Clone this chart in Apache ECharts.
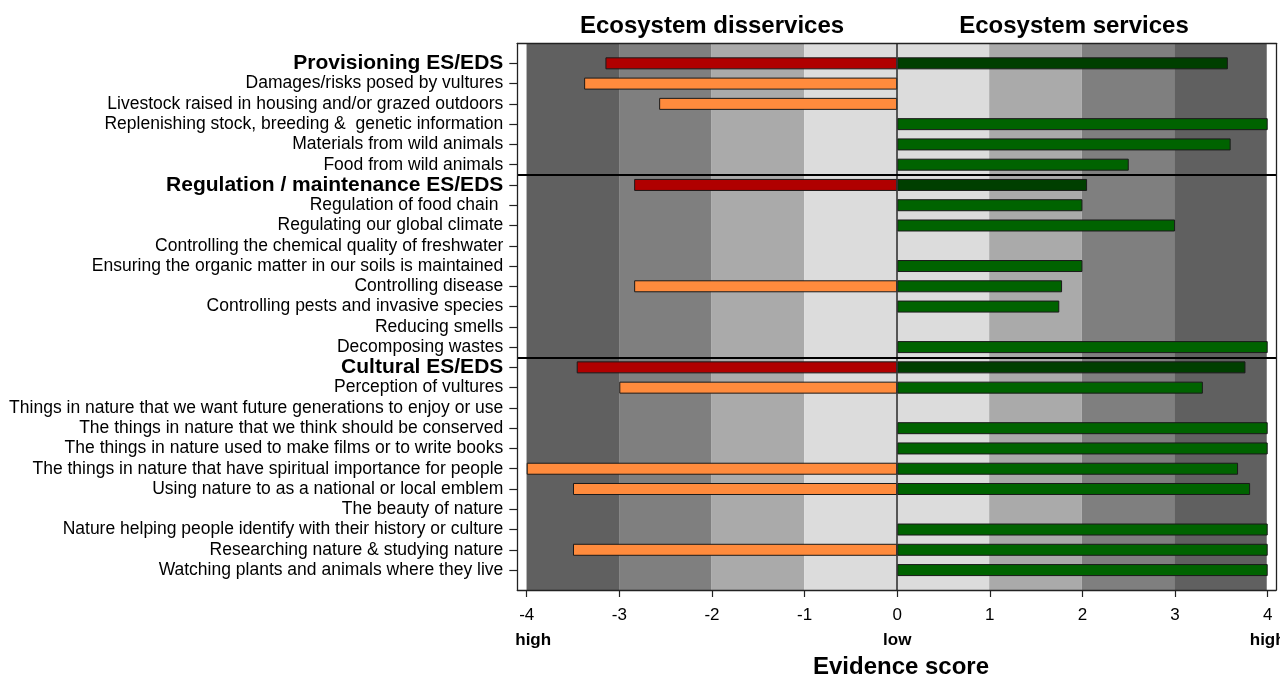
<!DOCTYPE html>
<html>
<head>
<meta charset="utf-8">
<title>Ecosystem services and disservices – evidence score</title>
<script src="https://cdn.jsdelivr.net/npm/echarts@6/dist/echarts.min.js"></script>
<style>
  html, body { margin: 0; padding: 0; background: #ffffff; }
  #chart { width: 1280px; height: 678px; }
</style>
</head>
<body>
<div id="chart"></div>
<script>
// ---- data -------------------------------------------------------------
const categories = [
  'Provisioning ES/EDS',
  'Damages/risks posed by vultures',
  'Livestock raised in housing and/or grazed outdoors',
  'Replenishing stock, breeding &  genetic information',
  'Materials from wild animals',
  'Food from wild animals',
  'Regulation / maintenance ES/EDS',
  'Regulation of food chain ',
  'Regulating our global climate',
  'Controlling the chemical quality of freshwater',
  'Ensuring the organic matter in our soils is maintained',
  'Controlling disease',
  'Controlling pests and invasive species',
  'Reducing smells',
  'Decomposing wastes',
  'Cultural ES/EDS',
  'Perception of vultures',
  'Things in nature that we want future generations to enjoy or use',
  'The things in nature that we think should be conserved',
  'The things in nature used to make films or to write books',
  'The things in nature that have spiritual importance for people',
  'Using nature to as a national or local emblem',
  'The beauty of nature',
  'Nature helping people identify with their history or culture',
  'Researching nature & studying nature',
  'Watching plants and animals where they live'
];

const groupHeaders = ['Provisioning ES/EDS', 'Regulation / maintenance ES/EDS', 'Cultural ES/EDS'];

// negative side: evidence of disservices
const disserviceScores = [
  -3.15, -3.38, -2.57, null, null, null,
  -2.84, null, null, null, null, -2.84, null, null, null,
  -3.46, -3.0, null, null, null, -4.0, -3.5, null, null, -3.5, null
];

// positive side: evidence of services
const serviceScores = [
  3.57, null, null, 4.0, 3.6, 2.5,
  2.05, 2.0, 3.0, null, 2.0, 1.78, 1.75, null, 4.0,
  3.76, 3.3, null, 4.0, 4.0, 3.68, 3.81, null, 4.0, 4.0, 4.0
];

const xTicks = [-4, -3, -2, -1, 0, 1, 2, 3, 4];
const scaleWords = { '-4': 'high', '0': 'low', '4': 'high' };
const panelTitles = ['Ecosystem disservices', 'Ecosystem services'];
const axisTitle = 'Evidence score';

// background shading: stronger evidence gets darker
const bandEdges = [-4, -3, -2, -1, 0, 1, 2, 3, 4];
const bandColors = ['#606060', '#7f7f7f', '#aaaaaa', '#dcdcdc', '#dcdcdc', '#aaaaaa', '#7f7f7f', '#606060'];

// rows after which a group separator is drawn
const groupBreaks = [5.5, 14.5];

// ---- styling ----------------------------------------------------------
const FONT = "'Liberation Sans', Arial, Helvetica, sans-serif";
const COL = {
  headerNeg: '#b00000', itemNeg: '#ff8b3d',
  headerPos: '#003f00', itemPos: '#006300',
  border: '#1a1a1a'
};

const isHeader = name => groupHeaders.indexOf(name) >= 0;

const negData = disserviceScores.map((v, i) => ({
  value: v,
  itemStyle: { color: isHeader(categories[i]) ? COL.headerNeg : COL.itemNeg }
}));
const posData = serviceScores.map((v, i) => ({
  value: v,
  itemStyle: { color: isHeader(categories[i]) ? COL.headerPos : COL.itemPos }
}));

const bandAreas = bandColors.map((c, i) => [
  { xAxis: bandEdges[i], itemStyle: { color: c } },
  { xAxis: bandEdges[i + 1] }
]);

const frameAxisLine = { show: true, onZero: false, lineStyle: { color: '#222', width: 1.3 } };
const titleStyle = { fontFamily: FONT, fontSize: 24, fontWeight: 'bold', color: '#000' };

const chart = echarts.init(document.getElementById('chart'), null, { renderer: 'canvas' });

chart.setOption({
  animation: false,
  backgroundColor: '#ffffff',
  textStyle: { fontFamily: FONT },
  title: [
    { text: panelTitles[0], left: 707, top: 9, textAlign: 'center', textStyle: titleStyle },
    { text: panelTitles[1], left: 1069, top: 9, textAlign: 'center', textStyle: titleStyle },
    { text: axisTitle, left: 896, top: 650, textAlign: 'center', textStyle: titleStyle }
  ],
  grid: [
    // frame panel: shading, zero line, separators, box
    { left: 517.3, right: 4, top: 43.3, bottom: 88, containLabel: false, outerBoundsMode: 'none' },
    // bars panel: one band per row
    { left: 526.7, right: 12.3, top: 53.2, bottom: 97.8, containLabel: false, outerBoundsMode: 'none' }
  ],
  xAxis: [
    { gridIndex: 0, type: 'value', min: -4.1, max: 4.1, position: 'bottom', z: 10,
      axisLine: frameAxisLine, axisTick: { show: false }, axisLabel: { show: false }, splitLine: { show: false } },
    { gridIndex: 0, type: 'value', min: -4.1, max: 4.1, position: 'top', z: 10,
      axisLine: frameAxisLine, axisTick: { show: false }, axisLabel: { show: false }, splitLine: { show: false } },
    { gridIndex: 1, type: 'value', min: xTicks[0], max: xTicks[xTicks.length - 1], interval: 1,
      position: 'bottom', offset: 9.8,
      axisLine: { show: false, onZero: false },
      axisTick: { show: true, length: 7, lineStyle: { color: '#222', width: 1.2 } },
      splitLine: { show: false },
      axisLabel: {
        margin: 13,
        formatter: v => {
          const w = scaleWords[String(v)];
          const t = '{t|' + v + '}';
          if (!w) return t;
          return t + '\n' + (v === xTicks[0] ? '{bl|' + w + '}' : '{b|' + w + '}');
        },
        rich: {
          t: { fontFamily: FONT, fontSize: 17, color: '#000', lineHeight: 25 },
          b: { fontFamily: FONT, fontSize: 17, fontWeight: 'bold', color: '#000', lineHeight: 25 },
          bl: { fontFamily: FONT, fontSize: 17, fontWeight: 'bold', color: '#000', lineHeight: 25, padding: [0, 0, 0, 13] }
        }
      }
    }
  ],
  yAxis: [
    { gridIndex: 0, type: 'value', min: -0.987, max: 25.935, inverse: true, position: 'left', z: 10,
      axisLine: frameAxisLine, axisTick: { show: false }, axisLabel: { show: false }, splitLine: { show: false } },
    { gridIndex: 0, type: 'value', min: -0.987, max: 25.935, inverse: true, position: 'right', z: 10,
      axisLine: frameAxisLine, axisTick: { show: false }, axisLabel: { show: false }, splitLine: { show: false } },
    { gridIndex: 1, type: 'category', data: categories, inverse: true, position: 'left', offset: 9.4,
      axisLine: { show: false, onZero: false },
      axisTick: { show: true, alignWithLabel: true, length: 8, lineStyle: { color: '#222', width: 1.2 } },
      splitLine: { show: false },
      axisLabel: {
        margin: 14, interval: 0,
        formatter: v => (isHeader(v) ? '{h|' + v + '}' : '{n|' + v + '}'),
        rich: {
          h: { fontFamily: FONT, fontSize: 21, fontWeight: 'bold', color: '#000' },
          n: { fontFamily: FONT, fontSize: 17.5, color: '#000' }
        }
      }
    }
  ],
  series: [
    {
      name: 'frame', type: 'line', xAxisIndex: 0, yAxisIndex: 0,
      data: [[0, 0]], symbol: 'none', silent: true, z: 1,
      lineStyle: { opacity: 0 },
      markArea: { silent: true, label: { show: false }, data: bandAreas },
      markLine: {
        silent: true, symbol: 'none', label: { show: false },
        data: [
          { xAxis: 0, lineStyle: { color: '#333', width: 1.6, type: 'solid' } }
        ].concat(groupBreaks.map(b => ({ yAxis: b, lineStyle: { color: '#000', width: 2, type: 'solid' } })))
      }
    },
    {
      name: 'Ecosystem disservices', type: 'bar', xAxisIndex: 2, yAxisIndex: 2,
      data: negData, barWidth: 12, barGap: '-100%', z: 3,
      itemStyle: { borderColor: COL.border, borderWidth: 1 }
    },
    {
      name: 'Ecosystem services', type: 'bar', xAxisIndex: 2, yAxisIndex: 2,
      data: posData, barWidth: 12, barGap: '-100%', z: 3,
      itemStyle: { borderColor: COL.border, borderWidth: 1 }
    }
  ]
});
</script>
</body>
</html>
